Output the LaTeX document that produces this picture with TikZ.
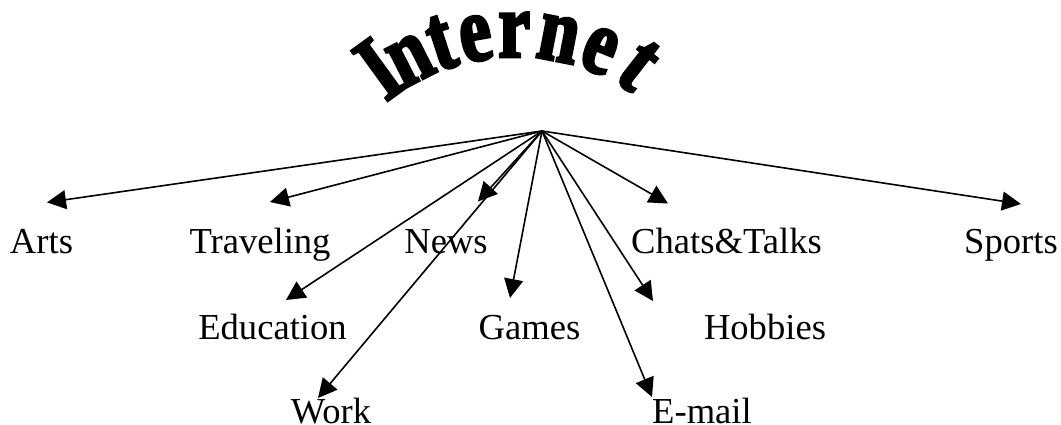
\documentclass[tikz,border=0pt]{standalone}
\usepackage{fontspec}
\setmainfont{Liberation Serif}
\newfontfamily\titlefont{Liberation Serif Bold}[FakeStretch=0.76,FakeBold=3]
\usetikzlibrary{arrows.meta}
\tikzset{
    topic/.style={anchor=base,inner sep=0pt,font=\fontsize{18.3pt}{22pt}\selectfont},
    letter/.style={anchor=base,inner sep=0pt,font=\titlefont\fontsize{47pt}{50pt}\selectfont},
    link/.style={line width=0.8pt,-{Triangle[length=9.5pt,width=9.5pt]}}
}

\begin{document}
\begin{tikzpicture}[x=0.5pt,y=0.5pt]
    \useasboundingbox (0,0) rectangle (1061,424);

    \coordinate (arch) at (516,157);
    \foreach \ch/\a/\r [count=\i] in {I/124.5/36,n/117/27,t/108.5/18,e/100/10,r/90.5/0,n/79.5/-11,e/69/-22,t/59.5/-38}
        \node[letter,rotate=\r] (title-\i) at ([shift={(\a:210)}]arch) {\ch};

    \coordinate (hub) at (542,293);

    \node[topic] (arts) at (41.5,171) {Arts};
    \node[topic] (traveling) at (260,171) {Traveling};
    \node[topic] (news) at (446,171) {News};
    \node[topic] (chats) at (726.5,171) {Chats\&Talks};
    \node[topic] (sports) at (1011,171) {Sports};
    \node[topic] (education) at (272.5,85) {Education};
    \node[topic] (games) at (529.5,85) {Games};
    \node[topic] (hobbies) at (765,85) {Hobbies};
    \node[topic] (work) at (331,1) {Work};
    \node[topic] (email) at (702,1) {E-mail};

    \coordinate (arts tip) at (47,221.6);
    \coordinate (traveling tip) at (270,222);
    \coordinate (news tip) at (478,222.5);
    \coordinate (chats tip) at (668,220.5);
    \coordinate (sports tip) at (1021,220);
    \coordinate (education tip) at (286,124);
    \coordinate (games tip) at (510,126);
    \coordinate (hobbies tip) at (653,123);
    \coordinate (work tip) at (318,26);
    \coordinate (email tip) at (652,27);

    \draw[link] (hub) -- (arts tip);
    \draw[link] (hub) -- (traveling tip);
    \draw[link] (hub) -- (news tip);
    \draw[link] (hub) -- (chats tip);
    \draw[link] (hub) -- (sports tip);

    \draw[link] (hub) -- (education tip);
    \draw[link] (hub) -- (games tip);
    \draw[link] (hub) -- (hobbies tip);

    \draw[link] (hub) -- (work tip);
    \draw[link] (hub) -- (email tip);
\end{tikzpicture}
\end{document}
